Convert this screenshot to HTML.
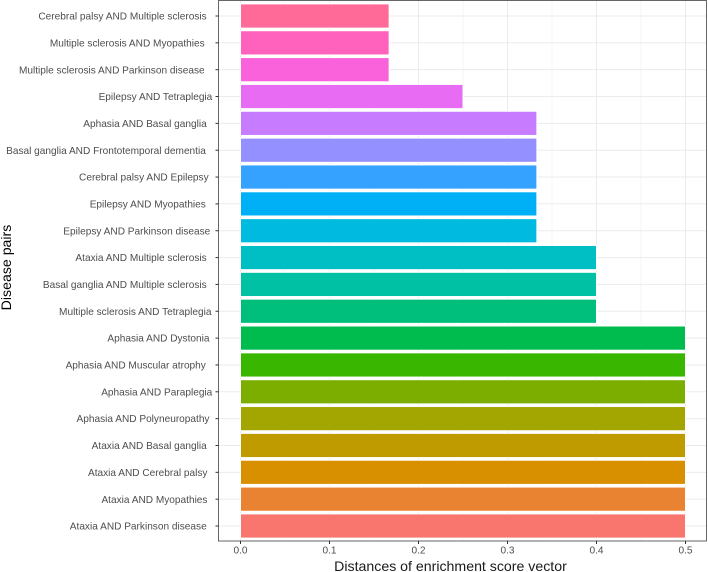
<!DOCTYPE html>
<html>
<head>
<meta charset="utf-8">
<style>
html,body{margin:0;padding:0;background:#fff;}
svg{display:block;font-family:"Liberation Sans",sans-serif;}
</style>
</head>
<body>
<svg id="chart" width="708" height="572" viewBox="0 0 708 572" xmlns="http://www.w3.org/2000/svg">
<rect x="0" y="0" width="708" height="572" fill="#ffffff"/>
<g id="grid"></g>
<g id="bars"></g>
<rect x="218.5" y="0.5" width="488" height="540.5" fill="none" stroke="#666666" stroke-width="1"/>
<g id="yaxis"></g>
<g id="xaxis"></g>
<text x="450.5" y="571" font-size="14.15" text-anchor="middle" fill="#1a1a1a">Distances of enrichment score vector</text>
<text transform="translate(11,267.5) rotate(-90)" font-size="14.15" text-anchor="middle" fill="#000000">Disease pairs</text>
</svg>
<script>
const categories = [
  "Ataxia AND Parkinson disease\u00a0\u00a0",
  "Ataxia AND Myopathies\u00a0\u2009",
  "Ataxia AND Cerebral palsy\u00a0\u2009",
  "Ataxia AND Basal ganglia\u00a0\u00a0",
  "Aphasia AND Polyneuropathy\u00a0",
  "Aphasia AND Paraplegia",
  "Aphasia AND Muscular atrophy\u00a0\u00a0\u200a",
  "Aphasia AND Dystonia\u00a0",
  "Multiple sclerosis AND Tetraplegia\u200a",
  "Basal ganglia AND Multiple sclerosis\u00a0\u00a0",
  "Ataxia AND Multiple sclerosis\u00a0\u00a0",
  "Epilepsy AND Parkinson disease\u2009",
  "Epilepsy AND Myopathies\u00a0\u00a0\u200a",
  "Cerebral palsy AND Epilepsy\u00a0\u200a",
  "Basal ganglia AND Frontotemporal dementia\u00a0\u00a0\u200a",
  "Aphasia AND Basal ganglia\u00a0\u00a0",
  "Epilepsy AND Tetraplegia",
  "Multiple sclerosis AND Parkinson disease\u00a0\u00a0\u2009",
  "Multiple sclerosis AND Myopathies\u00a0\u00a0\u2009",
  "Cerebral palsy AND Multiple sclerosis\u00a0\u00a0"
];
const distances = [0.5,0.5,0.5,0.5,0.5,0.5,0.5,0.5,0.4,0.4,0.4,0.333,0.333,0.333,0.333,0.333,0.25,0.167,0.167,0.167];
const barColors = ["#F8766D","#EA8331","#D89000","#C09B00","#A3A500","#7CAE00","#39B600","#00BB4E","#00BF7D","#00C1A3","#00BFC4","#00BAE0","#00B0F6","#35A2FF","#9590FF","#C77CFF","#E76BF3","#FA62DB","#FF62BC","#FF6A98"];
const xTickValues = [0,0.1,0.2,0.3,0.4,0.5];
const xTickLabels = ["0.0","0.1","0.2","0.3","0.4","0.5"];
const xMinorValues = [0.05,0.15,0.25,0.35,0.45];

const SVGNS = "http://www.w3.org/2000/svg";
function xScale(v){ return 240.5 + v * 890; }
function yScale(i){ return 526 - i * (510 / (categories.length - 1)); }
const PANEL = {left:218.5, right:706.5, top:0.5, bottom:541};
const BAR_H = 24.2;

function make(tag, attrs, parent){
  const el = document.createElementNS(SVGNS, tag);
  for (const k in attrs) el.setAttribute(k, attrs[k]);
  parent.appendChild(el);
  return el;
}
const grid = document.getElementById("grid");
const bars = document.getElementById("bars");
const yaxis = document.getElementById("yaxis");
const xaxis = document.getElementById("xaxis");

xMinorValues.forEach(function(v){
  const l = make("line", {x1:xScale(v), x2:xScale(v), y1:PANEL.top, y2:PANEL.bottom, stroke:"#f0f0f0", "stroke-width":0.7}, grid);
  
  
});
xTickValues.forEach(function(v, i){
  const l = make("line", {x1:xScale(v), x2:xScale(v), y1:PANEL.top, y2:PANEL.bottom, stroke:"#ebebeb", "stroke-width":1}, grid);
  
  
  const t = make("line", {x1:xScale(v), x2:xScale(v), y1:PANEL.bottom, y2:PANEL.bottom + 3, stroke:"#333333", "stroke-width":1}, xaxis);
  
  
  const txt = make("text", {x:xScale(v), y:553.7, "font-size":10.1, "text-anchor":"middle", fill:"#4d4d4d"}, xaxis);
  txt.textContent = xTickLabels[i];
  
  
});
categories.forEach(function(c, i){
  const y = yScale(i);
  const l = make("line", {x1:PANEL.left, x2:PANEL.right, y1:y, y2:y, stroke:"#ebebeb", "stroke-width":1}, grid);
  
  
  const b = make("rect", {x:xScale(0), y:y - BAR_H / 2, width:xScale(distances[i]) - xScale(0), height:BAR_H, fill:barColors[i], stroke:"#ffffff", "stroke-width":1}, bars);
  
  
  const t = make("line", {x1:PANEL.left - 3, x2:PANEL.left, y1:y, y2:y, stroke:"#333333", "stroke-width":1}, yaxis);
  
  
  const txt = make("text", {x:212.3, y:y + 3.6, "font-size":10.1, "text-anchor":"end", fill:"#4d4d4d"}, yaxis);
  txt.textContent = c;
  
  
});
</script>
</body>
</html>
